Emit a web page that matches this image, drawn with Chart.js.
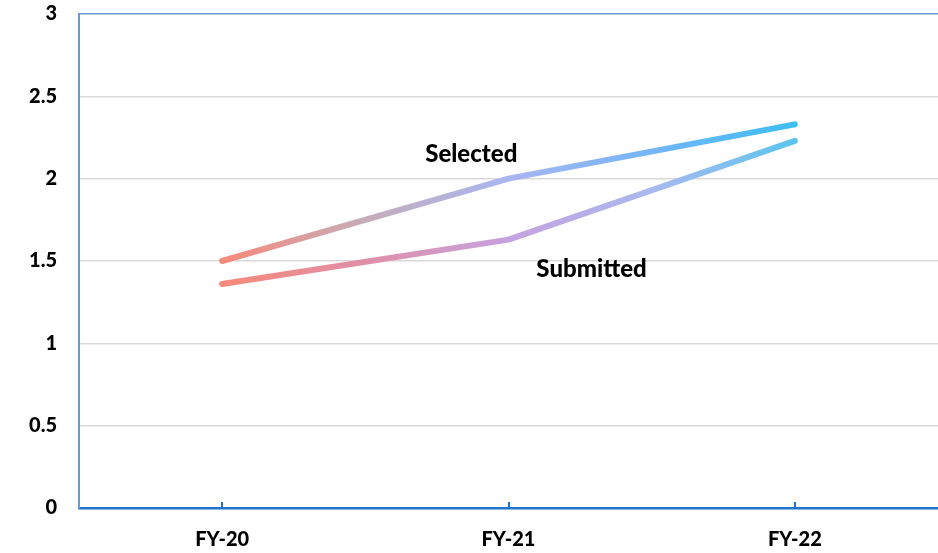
<!DOCTYPE html>
<html>
<head>
<meta charset="utf-8">
<script src="https://cdn.jsdelivr.net/npm/chart.js@4.4.1/dist/chart.umd.min.js"></script>
<style>
  html, body { margin: 0; padding: 0; background: #ffffff; }
  #wrap { width: 938px; height: 553px; }
</style>
</head>
<body>
<div id="wrap"><canvas id="c" width="938" height="553"></canvas></div>
<script>
// Fiscal years on the category axis
const years = ['FY-20', 'FY-21', 'FY-22'];
// Proposals per year
const selected = [1.5, 2.0, 2.33];
const submitted = [1.36, 1.63, 2.23];
// Value axis ticks
const yTicks = [0, 0.5, 1, 1.5, 2, 2.5, 3];

const FONT = 'Lato, "Open Sans", sans-serif';

function lineGradient(ctx, area, stops) {
  if (!area) return stops[0][1];
  const xs = ctx.chart.scales.x;
  const x0 = xs.getPixelForValue(0), x1 = xs.getPixelForValue(2);
  const g = ctx.chart.ctx.createLinearGradient(x0, 0, x1, 0);
  stops.forEach(s => g.addColorStop(s[0], s[1]));
  return g;
}

const selectedStops = [[0, '#F7897A'], [0.25, '#C5ADBA'], [0.5, '#A9B6F2'], [0.78, '#6DB6F8'], [1, '#3DBEF4']];
const submittedStops = [[0, '#F7897A'], [0.25, '#E08FA8'], [0.5, '#C6A2E0'], [0.75, '#A9B9EF'], [1, '#5BC5EE']];

// Series names written next to their lines
const seriesLabels = [
  { text: 'Selected', cat: 0.87, val: 2.15 },
  { text: 'Submitted', cat: 1.29, val: 1.45 }
];

const framePlugin = {
  id: 'frame',
  afterDatasetsDraw(chart) {
    const { ctx, chartArea: a, scales: { x, y } } = chart;
    ctx.save();
    // upward tick marks on the category axis
    ctx.strokeStyle = '#2173CC';
    ctx.lineWidth = 2;
    years.forEach((_, i) => {
      const px = Math.round(x.getPixelForValue(i));
      ctx.beginPath();
      ctx.moveTo(px, a.bottom);
      ctx.lineTo(px, a.bottom - 6);
      ctx.stroke();
    });
    // series names
    ctx.fillStyle = '#000';
    ctx.font = '900 24px ' + FONT;
    ctx.textAlign = 'center';
    ctx.textBaseline = 'middle';
    seriesLabels.forEach(l => {
      ctx.fillText(l.text, x.getPixelForValue(l.cat), y.getPixelForValue(l.val));
    });
    ctx.restore();
  }
};

new Chart(document.getElementById('c'), {
  type: 'line',
  data: {
    labels: years,
    datasets: [
      {
        label: 'Selected',
        data: selected,
        borderWidth: 6,
        borderCapStyle: 'round',
        borderJoinStyle: 'round',
        pointRadius: 0,
        tension: 0,
        borderColor: c => lineGradient(c, c.chart.chartArea, selectedStops)
      },
      {
        label: 'Submitted',
        data: submitted,
        borderWidth: 6,
        borderCapStyle: 'round',
        borderJoinStyle: 'round',
        pointRadius: 0,
        tension: 0,
        borderColor: c => lineGradient(c, c.chart.chartArea, submittedStops)
      }
    ]
  },
  options: {
    responsive: false,
    animation: false,
    events: [],
    layout: { padding: { top: 14, right: 0, bottom: 0, left: 0 } },
    plugins: { legend: { display: false }, tooltip: { enabled: false } },
    scales: {
      x: {
        offset: true,
        grid: { display: false, drawTicks: false },
        border: { display: true, color: '#2173CC', width: 2.5 },
        afterFit: s => { s.height = 45; s.paddingLeft = 0; s.paddingRight = -4; },
        ticks: {
          color: '#000',
          font: { family: FONT, weight: '900', size: 20 },
          padding: 20
        }
      },
      y: {
        min: 0,
        max: 3,
        afterBuildTicks: s => { s.ticks = yTicks.map(v => ({ value: v })); },
        afterFit: s => { s.width = 79; s.paddingTop = 0; s.paddingBottom = 0; },
        grid: {
          drawTicks: false,
          lineWidth: 1.5,
          color: c => c.tick.value === 3 ? '#6C98D4' : '#D9D9D9'
        },
        border: { display: true, color: '#6C98D4', width: 2 },
        ticks: {
          color: '#000',
          font: { family: FONT, weight: '900', size: 20 },
          padding: 22,
          callback: v => String(v)
        }
      }
    }
  },
  plugins: [framePlugin]
});
</script>
</body>
</html>
